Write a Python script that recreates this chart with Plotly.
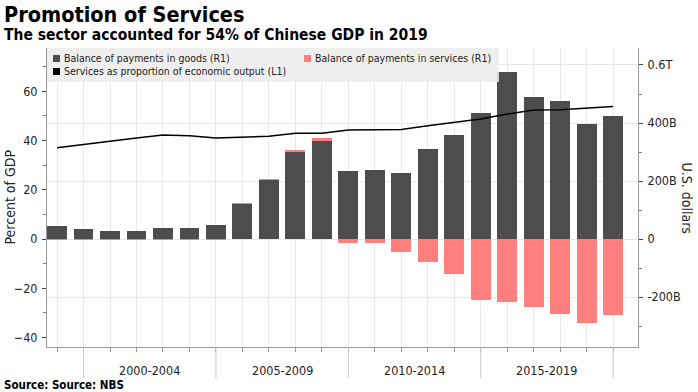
import plotly.graph_objects as go

# ---------------- data ----------------
years = list(range(1998, 2020))
goods_balance = [45, 33, 29, 26, 37, 39, 50, 121, 205, 302, 341, 233, 237, 227,
                 310, 358, 436, 575, 489, 475, 395, 424]          # USD bn (R1)
services_balance = [-1.5, -1, -1, -1, -1, -3, -1, 2, 1, 5, 6, -14, -14, -46,
                    -78, -122, -212, -217, -233, -257, -290, -261]  # USD bn (R1)
services_share = [37.0, 38.4, 39.8, 41.0, 42.2, 41.9, 41.0, 41.3, 41.7, 42.9, 42.9,
                  44.2, 44.2, 44.4, 46.0, 47.3, 48.7, 50.7, 52.3, 52.4, 53.1, 53.8]  # % (L1)

right_tickvals = [-200, 0, 200, 400, 600]
right_ticktext = ["-200B", "0", "200B", "400B", "0.6T"]
left_tickvals = [-40, -20, 0, 20, 40, 60]
group_labels = ["2000-2004", "2005-2009", "2010-2014", "2015-2019"]
group_centers = [2001.5, 2006.5, 2011.5, 2016.5]
group_edges = [1999, 2004, 2009, 2014, 2019]

legend_names = ["Balance of payments in goods (R1)",
                "Balance of payments in services (R1)",
                "Services as proportion of economic output (L1)"]

# ---------------- layout geometry ----------------
W, H = 698, 392
L, R, T, B = 47, 638, 48, 347
FONT = "DejaVu Sans Condensed, DejaVu Sans, sans-serif"
GOODS_C = "#4d4d4d"
SERV_C = "#ff7f7f"
TXT = "#222222"


def px(x):
    return (x - L) / (R - L)


def py(y):
    return (B - y) / (B - T)


fig = go.Figure()
fig.add_bar(x=years, y=goods_balance, yaxis="y", marker=dict(color=GOODS_C, line=dict(width=0)),
            width=0.75, name=legend_names[0], showlegend=False)
fig.add_bar(x=years, y=services_balance, yaxis="y", marker=dict(color=SERV_C, line=dict(width=0)),
            width=0.75, name=legend_names[1], showlegend=False)
fig.add_scatter(x=years, y=services_share, yaxis="y2", mode="lines",
                line=dict(color="black", width=1.5), name=legend_names[2], showlegend=False)

shapes = []
annotations = []

# legend background and entries
shapes.append(dict(type="rect", xref="paper", yref="paper", x0=px(L), x1=px(499),
                   y0=py(82), y1=py(T), fillcolor="rgba(236,236,236,0.85)", line=dict(width=0),
                   layer="above"))
legend_pos = [(53, 58.5, GOODS_C), (304, 58.5, SERV_C), (53, 71.5, "black")]
for (lx, ly, c), name in zip(legend_pos, legend_names):
    shapes.append(dict(type="rect", xref="paper", yref="paper", x0=px(lx), x1=px(lx + 7),
                       y0=py(ly + 3.5), y1=py(ly - 3.5), fillcolor=c, line=dict(width=0),
                       layer="above"))
    annotations.append(dict(text=name, xref="paper", yref="paper", x=px(lx + 9), y=py(ly),
                            xanchor="left", yanchor="middle", showarrow=False,
                            font=dict(family=FONT, size=10.5, color=TXT)))

# x-axis group separators and labels
for e in group_edges:
    shapes.append(dict(type="line", xref="x", yref="paper", x0=e, x1=e, y0=0, y1=py(378),
                       line=dict(color="#c8c8c8", width=1)))
for c, lab in zip(group_centers, group_labels):
    annotations.append(dict(text=lab, xref="x", yref="paper", x=c, y=py(370),
                            xanchor="center", yanchor="middle", showarrow=False,
                            font=dict(family=FONT, size=12.5, color=TXT)))

# titles
annotations += [
    dict(text="<b>Promotion of Services</b>", xref="paper", yref="paper", x=px(2), y=py(14),
         xanchor="left", yanchor="middle", showarrow=False,
         font=dict(family=FONT, size=21.5, color="black")),
    dict(text="<b>The sector accounted for 54% of Chinese GDP in 2019</b>", xref="paper",
         yref="paper", x=px(2), y=py(35), xanchor="left", yanchor="middle", showarrow=False,
         font=dict(family=FONT, size=15.5, color="black")),
    dict(text="<b>Source: Source: NBS</b>", xref="paper", yref="paper", x=px(2), y=py(385),
         xanchor="left", yanchor="middle", showarrow=False,
         font=dict(family=FONT, size=11.5, color="black")),
    dict(text="Percent of GDP", xref="paper", yref="paper", x=px(9), y=py(197.5),
         xanchor="center", yanchor="middle", textangle=-90, showarrow=False,
         font=dict(family=FONT, size=14, color=TXT)),
    dict(text="U.S. dollars", xref="paper", yref="paper", x=px(687), y=py(197.5),
         xanchor="center", yanchor="middle", textangle=90, showarrow=False,
         font=dict(family=FONT, size=14, color=TXT)),
]

fig.update_layout(
    width=W, height=H, autosize=False,
    margin=dict(l=L, r=W - R, t=T, b=H - B, pad=0),
    paper_bgcolor="white", plot_bgcolor="white",
    barmode="relative", bargap=0,
    showlegend=False,
    font=dict(family=FONT, color=TXT),
    xaxis=dict(range=[1997.62, 2019.94], tickmode="array", tickvals=years,
               showticklabels=False, ticks="outside", ticklen=4, tickcolor="#9a9a9a",
               showgrid=True, gridcolor="#e8e8e8", gridwidth=1,
               showline=True, linecolor="#9a9a9a", zeroline=False, fixedrange=True),
    yaxis=dict(side="right", range=[-372.4, 658.6], tickmode="array",
               tickvals=right_tickvals, ticktext=right_ticktext,
               ticks="outside", ticklen=4, tickcolor="#444",
               minor=dict(tickmode="array", tickvals=[-300, -100, 100, 300, 500],
                          ticks="outside", ticklen=3, tickcolor="#777", showgrid=False),
               showgrid=True, gridcolor="#e8e8e8", gridwidth=1, zeroline=False,
               showline=True, linecolor="#9a9a9a",
               tickfont=dict(family=FONT, size=12.5, color=TXT), ticklabelstandoff=2),
    yaxis2=dict(side="left", overlaying="y", anchor="x", range=[-43.8, 77.5],
                tickmode="array", tickvals=left_tickvals,
                ticks="outside", ticklen=4, tickcolor="#444",
                minor=dict(tickmode="array", tickvals=[-30, -10, 10, 30, 50, 70],
                           ticks="outside", ticklen=3, tickcolor="#777", showgrid=False),
                showgrid=False, zeroline=False, showline=True, linecolor="#9a9a9a",
                tickfont=dict(family=FONT, size=12.5, color=TXT), ticklabelstandoff=2),
    shapes=shapes,
    annotations=annotations,
)

fig.write_html(
    "out.html",
    config={"displayModeBar": False},
    post_script="document.body.style.margin='0';document.body.style.overflow='hidden';",
)
